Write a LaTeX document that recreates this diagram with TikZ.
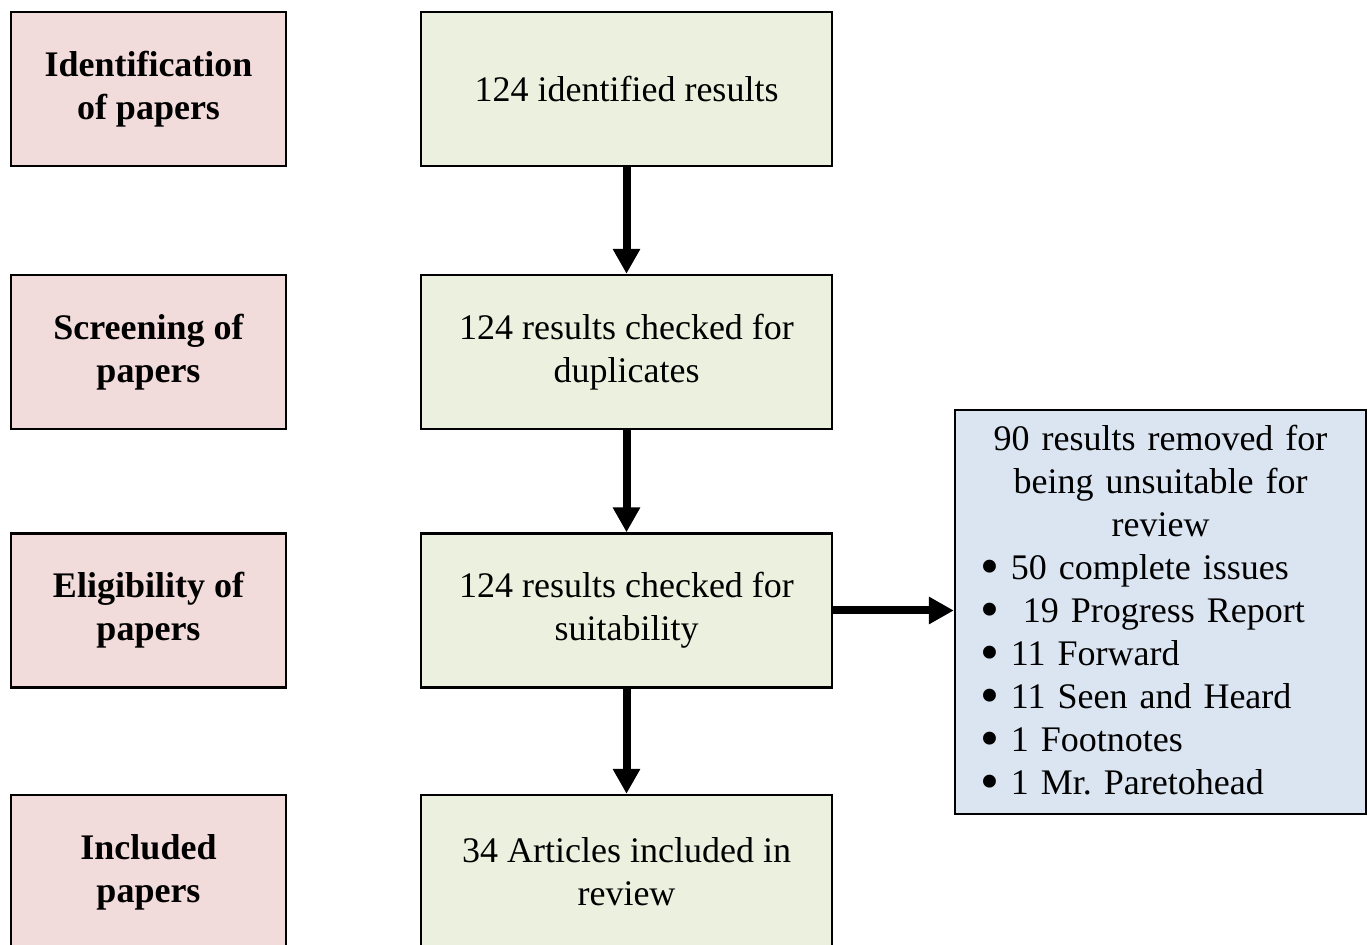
\documentclass[tikz,border=0pt]{standalone}
\usepackage{fontspec}
\setmainfont{Liberation Serif}
\usetikzlibrary{arrows.meta}
\setlength{\parindent}{0pt}
\definecolor{stagepink}{RGB}{242,220,219}
\definecolor{stepgreen}{RGB}{235,241,222}
\definecolor{outblue}{RGB}{219,229,241}
\newcommand{\itembullet}{\raisebox{-0.3ex}{\scalebox{1.5}{\textbullet}}\ }
\tikzset{
    boxtext/.style={font=\fontsize{18}{21.5}\selectfont},
    stage/.style={boxtext, draw, line width=1.2pt, fill=stagepink, minimum width=137.5pt, minimum height=77pt, align=center, font=\fontsize{18}{21.5}\selectfont\bfseries},
    stepbox/.style={boxtext, draw, line width=1.2pt, fill=stepgreen, minimum width=205.5pt, minimum height=77pt, align=center},
    outbox/.style={boxtext, draw, line width=1.2pt, fill=outblue, minimum width=205.5pt, minimum height=202pt, text width=180.5pt, inner xsep=12.5pt, inner ysep=2pt, align=left},
    flow/.style={line width=4pt, -{Triangle[length=12.5pt, width=13pt]}}
}
\begin{document}
\begin{tikzpicture}[x=0.5pt, y=-0.5pt]
\useasboundingbox (0,0) rectangle (1370,945);
% stages on the left
\foreach \n/\y/\t in {ident/89/{Identification\\of papers}, screen/352/{Screening of\\papers}, elig/610.5/{Eligibility of\\papers}, incl/872/{Included\\papers}}
{
    \node[stage] (\n) at (148.5,\y) {\t};
}
% steps
\node[stepbox] (found) at (626.5,89) {124 identified results};
\node[stepbox] (dupl) at (626.5,352) {124 results checked for\\duplicates};
\node[stepbox] (suit) at (626.5,610.5) {124 results checked for\\suitability};
\node[stepbox] (kept) at (626.5,872) {34 Articles included in\\review};
\node[outbox] (removed) at (1160.5,612) {{\centering 90 results removed for\\being unsuitable for\\review\par}
\itembullet 50 complete issues\\
\itembullet\ 19 Progress Report\\
\itembullet 11 Forward\\
\itembullet 11 Seen and Heard\\
\itembullet 1 Footnotes\\
\itembullet 1 Mr.\ Paretohead};
% arrows
\foreach \a/\b in {found/dupl, dupl/suit, suit/kept}
{
    \draw[flow] (\a.south) -- (\b.north);
}
\draw[flow] (suit.east) -- (suit.east -| removed.west);
\end{tikzpicture}
\end{document}
